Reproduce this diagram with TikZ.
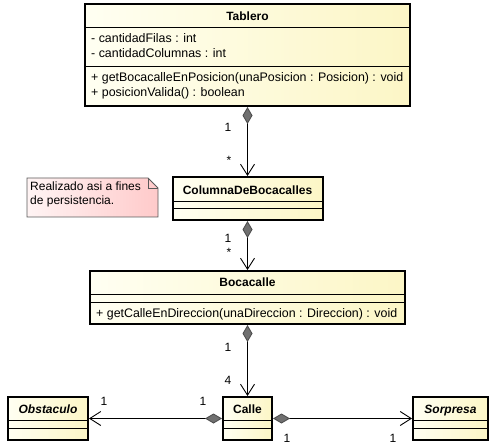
\documentclass[tikz,border=0pt]{standalone}
\usepackage{fontspec}
\setmainfont{Liberation Sans}
\usetikzlibrary{arrows.meta}

\definecolor{classleft}{RGB}{255,255,242}
\definecolor{classright}{RGB}{252,246,198}
\definecolor{noteleft}{RGB}{255,244,244}
\definecolor{noteright}{RGB}{255,202,202}
\definecolor{noteline}{RGB}{90,90,90}
\definecolor{diamondgray}{RGB}{112,112,112}

\begin{document}
\begin{tikzpicture}[x=1pt, y=-1pt,
  umlclass/.style={draw, line width=2pt, left color=classleft, right color=classright, inner sep=0pt},
  divider/.style={line width=1pt},
  title/.style={anchor=base, inner sep=0pt, font=\bfseries},
  abstract/.style={anchor=base, inner sep=0pt, font=\bfseries\itshape},
  member/.style={anchor=base west, inner sep=0pt, font=\fontsize{12.4}{15}\selectfont},
  mult/.style={anchor=base, inner sep=0pt},
  comp/.style={line width=0.9pt, {Diamond[length=17pt,width=10pt,fill=diamondgray,color=diamondgray!70!black]}-{Straight Barb[length=11pt,width=14pt]}}
]
  \fontsize{12}{15}\selectfont
  \useasboundingbox (0,0) rectangle (491,444);

  %% classes
  \node[umlclass, minimum width=325pt, minimum height=102pt] (tab) at (247.5,55) {};
  \draw[divider] (85,28) -- (410,28);
  \draw[divider] (85,67) -- (410,67);
  \node[title] (tabname) at (247.5,21) {Tablero};
  \node[member] (tabattr1) at (91,43) {- cantidadFilas : int};
  \node[member] (tabattr2) at (91,58) {- cantidadColumnas : int};
  \node[member] (tabop1) at (91,82) {+ getBocacalleEnPosicion(unaPosicion : Posicion) : void};
  \node[member] (tabop2) at (91,97) {+ posicionValida() : boolean};

  \node[umlclass, minimum width=150pt, minimum height=43pt] (col) at (247.5,198.5) {};
  \draw[divider] (172.5,202) -- (322.5,202);
  \draw[divider] (172.5,209) -- (322.5,209);
  \node[title] (colname) at (247.5,194) {ColumnaDeBocacalles};

  \node[umlclass, minimum width=315pt, minimum height=53pt] (boc) at (247.5,297.5) {};
  \draw[divider] (90,294) -- (405,294);
  \draw[divider] (90,302) -- (405,302);
  \node[title] (bocname) at (247.5,287) {Bocacalle};
  \node[member] (bocop1) at (96,317.5) {+ getCalleEnDireccion(unaDireccion : Direccion) : void};

  \node[umlclass, minimum width=49pt, minimum height=43pt] (calle) at (247.5,418.5) {};
  \draw[divider] (223,420) -- (272,420);
  \draw[divider] (223,428) -- (272,428);
  \node[title] (callename) at (247.5,413.5) {Calle};

  \node[umlclass, minimum width=80pt, minimum height=43pt] (obs) at (48,418.5) {};
  \draw[divider] (8,420) -- (88,420);
  \draw[divider] (8,428) -- (88,428);
  \node[abstract] (obsname) at (48,413.5) {Obstaculo};

  \node[umlclass, minimum width=75pt, minimum height=43pt] (sorp) at (450.5,418.5) {};
  \draw[divider] (413,420) -- (488,420);
  \draw[divider] (413,428) -- (488,428);
  \node[abstract] (sorpname) at (450.5,413.5) {Sorpresa};

  %% note
  \shade[left color=noteleft, right color=noteright, draw=noteline, line width=0.8pt]
    (27,178) -- (148,178) -- (158,188) -- (158,217) -- (27,217) -- cycle;
  \draw[noteline, line width=0.8pt] (148,178) -- (148,188) -- (158,188);
  \node[anchor=north west, inner sep=0pt, align=left, font=\fontsize{12}{14}\selectfont] (notetext) at (30,182)
    {Realizado asi a fines\\de persistencia.};

  %% compositions
  \draw[comp] (tab) -- (col);
  \draw[comp] (col) -- (boc);
  \draw[comp] (boc) -- (calle);
  \draw[comp] (calle) -- (obs);
  \draw[comp] (calle) -- (sorp);

  %% multiplicities
  \node[mult] (m1) at (228,131.5) {1};
  \node[mult] (m2) at (229,165) {*};
  \node[mult] (m3) at (228,242.5) {1};
  \node[mult] (m4) at (229,257) {*};
  \node[mult] (m5) at (228,351) {1};
  \node[mult] (m6) at (228,384.5) {4};
  \node[mult] (m7) at (104,405.5) {1};
  \node[mult] (m8) at (203,405.5) {1};
  \node[mult] (m9) at (287,442.5) {1};
  \node[mult] (m10) at (393,442.5) {1};
\end{tikzpicture}
\end{document}
